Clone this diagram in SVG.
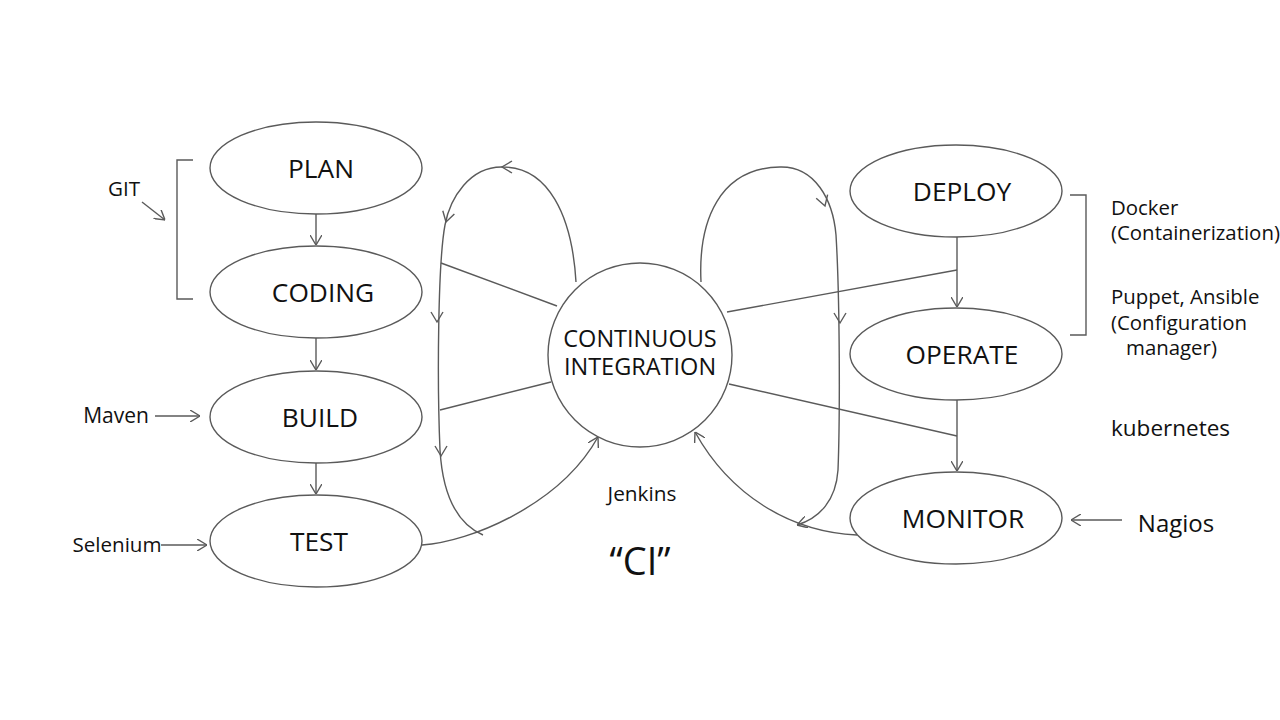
<svg xmlns="http://www.w3.org/2000/svg" width="1280" height="720" viewBox="0 0 1280 720">
<style>
.ln{fill:none;stroke:#5a5a5a;stroke-width:1.4}
.nd{fill:#fff;stroke:#5a5a5a;stroke-width:1.4}
.t{font-family:"Open Sans","Noto Sans",sans-serif;fill:#111;text-anchor:middle;dominant-baseline:central}
.big{font-size:26.3px}
.lab{font-size:20.6px}
.ls{font-family:"Open Sans","Noto Sans",sans-serif;fill:#111;font-size:20.4px}
</style>
<defs>
<marker id="ah" viewBox="0 0 10 12" refX="10" refY="6" markerWidth="10" markerHeight="12" markerUnits="userSpaceOnUse" orient="auto">
<path d="M0,0 L10,6 L0,12" fill="none" stroke="#5a5a5a" stroke-width="1.4"/>
</marker>
<path id="chev" d="M-10,-6 L0,0 L-10,6" fill="none" stroke="#5a5a5a" stroke-width="1.4"/>
</defs>
<rect width="1280" height="720" fill="#fff"/>
<g id="connectors">
<line class="ln" x1="316" y1="214" x2="316" y2="245" marker-end="url(#ah)"/>
<line class="ln" x1="316" y1="338" x2="316" y2="370" marker-end="url(#ah)"/>
<line class="ln" x1="316" y1="463" x2="316" y2="494" marker-end="url(#ah)"/>
<line class="ln" x1="957" y1="237" x2="957" y2="307" marker-end="url(#ah)"/>
<line class="ln" x1="957" y1="400" x2="957" y2="471" marker-end="url(#ah)"/>
<path class="ln" d="M576,282 C572,215 548,167 503,167 C470,166 450,198 445,225 C438,262 437,380 440,450 C443,500 460,525 483,535"/>
<use href="#chev" transform="translate(502,167) rotate(180)"/>
<use href="#chev" transform="translate(446,222) rotate(105)"/>
<use href="#chev" transform="translate(437,322) rotate(90)"/>
<use href="#chev" transform="translate(441,456) rotate(90)"/>
<path class="ln" d="M422,545 C470,542 560,505 598,437" marker-end="url(#ah)"/>
<path class="ln" d="M701,282 C698,220 720,168 780,167 C815,166 833,200 836,235 C840,300 840,420 838,470 C836,500 820,518 797,525" marker-end="url(#ah)"/>
<use href="#chev" transform="translate(825,206) rotate(72)"/>
<use href="#chev" transform="translate(840,323) rotate(90)"/>
<path class="ln" d="M857,535 C790,532 730,495 695,432" marker-end="url(#ah)"/>
<line class="ln" x1="441" y1="263" x2="557" y2="306"/>
<line class="ln" x1="440" y1="410" x2="551" y2="382"/>
<line class="ln" x1="727" y1="312" x2="957" y2="270"/>
<line class="ln" x1="729" y1="384" x2="957" y2="436"/>
<polyline class="ln" points="193,160 177,160 177,299 193,299"/>
<line class="ln" x1="142" y1="202" x2="165" y2="220" marker-end="url(#ah)"/>
<line class="ln" x1="155" y1="416" x2="200" y2="416" marker-end="url(#ah)"/>
<line class="ln" x1="161" y1="545" x2="207" y2="545" marker-end="url(#ah)"/>
<polyline class="ln" points="1070,195 1086,195 1086,335 1070,335"/>
<line class="ln" x1="1122" y1="520" x2="1071" y2="520" marker-end="url(#ah)"/>
</g>
<g id="plan"><ellipse class="nd" cx="316" cy="168" rx="106" ry="46"/><text class="t big" x="321" y="168">PLAN</text></g>
<g id="coding"><ellipse class="nd" cx="316" cy="292" rx="106" ry="46"/><text class="t big" x="323" y="292">CODING</text></g>
<g id="build"><ellipse class="nd" cx="316" cy="417" rx="106" ry="46"/><text class="t big" x="320" y="417">BUILD</text></g>
<g id="test"><ellipse class="nd" cx="316" cy="541" rx="106" ry="46"/><text class="t big" x="319" y="541">TEST</text></g>
<g id="ci"><circle class="nd" cx="640" cy="355" r="92"/><text class="t" style="font-size:23.5px" x="640" y="338">CONTINUOUS</text><text class="t" style="font-size:23.5px" x="640" y="366">INTEGRATION</text></g>
<g id="deploy"><ellipse class="nd" cx="956" cy="191" rx="106" ry="46"/><text class="t big" x="962" y="191">DEPLOY</text></g>
<g id="operate"><ellipse class="nd" cx="956" cy="354" rx="106" ry="46"/><text class="t big" x="962" y="354">OPERATE</text></g>
<g id="monitor"><ellipse class="nd" cx="956" cy="518" rx="106" ry="46"/><text class="t big" x="963" y="518">MONITOR</text></g>
<g id="labels">
<text class="t lab" x="124" y="188">GIT</text>
<text class="t" style="font-size:21px" x="116" y="415">Maven</text>
<text class="t lab" x="117" y="544">Selenium</text>
<text class="ls" x="1111" y="215">Docker</text>
<text class="ls" x="1111" y="240">(Containerization)</text>
<text class="ls" x="1111" y="304">Puppet, Ansible</text>
<text class="ls" x="1111" y="330">(Configuration</text>
<text class="ls" x="1126" y="355">manager)</text>
<text class="ls" style="font-size:22.5px" x="1111" y="436">kubernetes</text>
<text class="t" style="font-size:24px" x="1176" y="522">Nagios</text>
<text class="t" style="font-size:20.8px" x="642" y="493">Jenkins</text>
<text class="t" style="font-size:38px" x="640" y="560">“CI”</text>
</g>
</svg>
